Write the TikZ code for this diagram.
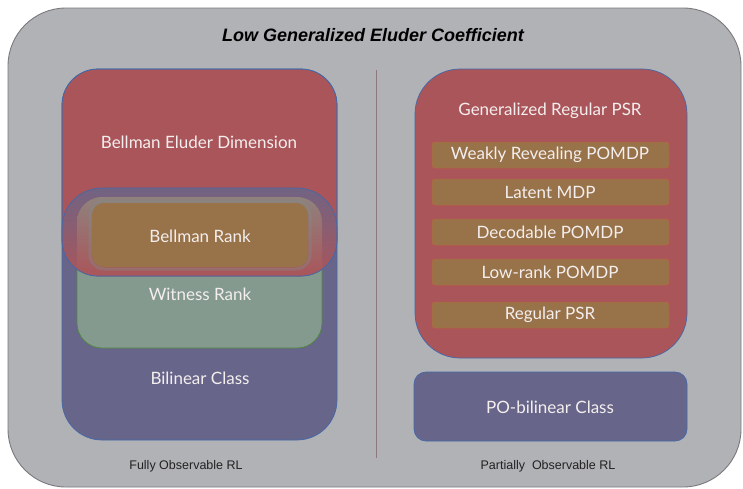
\documentclass[tikz,border=0pt]{standalone}
\usepackage{fontspec}
\setmainfont{Liberation Sans}
\newfontfamily\lblfont{Lato}
\definecolor{outerfill}{HTML}{B1B2B6}
\definecolor{outerline}{HTML}{7A7A7E}
\definecolor{redfill}{HTML}{AA555A}
\definecolor{bluefill}{HTML}{67668A}
\definecolor{greenfill}{HTML}{849A8F}
\definecolor{orangefill}{HTML}{98734A}
\definecolor{edgeblue}{HTML}{4468A8}
\definecolor{edgegreen}{HTML}{4E8A3A}
\definecolor{edgeorange}{HTML}{B8663A}
\definecolor{dividerc}{HTML}{8C7A78}
\definecolor{lbltext}{HTML}{F4EEEE}
\definecolor{captext}{HTML}{222222}
\begin{document}
\begin{tikzpicture}[x=1pt,y=-1pt,
  lbl/.style={text=lbltext, font=\lblfont\fontsize{17}{19}\selectfont, inner sep=0pt},
  captxt/.style={text=captext, font=\fontsize{12.5}{14}\selectfont, inner sep=0pt},
  strip/.style={fill=orangefill, draw=edgeorange, line width=0.5pt, rounded corners=3pt}]
\useasboundingbox (0,0) rectangle (743,488);
% outer region
\draw[outerline, fill=outerfill, line width=0.9pt, rounded corners=58pt] (8,8) rectangle (741,487);
\node[font=\bfseries\itshape\fontsize{18}{20}\selectfont, inner sep=0pt] (title) at (373,35) {Low Generalized Eluder Coefficient};
% divider
\coordinate (divtop) at (376,70);
\coordinate (divbot) at (376,458);
\draw[dividerc, line width=0.8pt] (divtop) -- (divbot);
% ---------- left: fully observable ----------
\fill[bluefill, rounded corners=40pt] (62,188) rectangle (337,440);
\draw[edgegreen, fill=greenfill, line width=0.7pt, rounded corners=25pt] (77,197) rectangle (322,348);
\draw[edgeblue, fill=redfill, line width=0.7pt, rounded corners=36pt] (62,69) rectangle (337,276);
\begin{scope}
  \clip[rounded corners=36pt] (62,69) rectangle (337,276);
  \begin{scope}
    \clip[rounded corners=40pt] (62,188) rectangle (337,440);
    \shade[top color=bluefill!85!redfill, bottom color=redfill] (60,188) rectangle (340,277);
    \clip[rounded corners=25pt] (77,197) rectangle (322,348);
    \shade[top color=greenfill!65!redfill!90!gray, bottom color=redfill] (75,197) rectangle (325,277);
  \end{scope}
\end{scope}
\draw[edgeblue, line width=0.7pt, rounded corners=40pt] (62,188) rectangle (337,440);
\draw[edgeblue, line width=0.7pt, rounded corners=36pt] (62,69) rectangle (337,276);
\draw[gray!60!greenfill, line width=3pt, opacity=0.4, rounded corners=14pt] (90,201) rectangle (310,269);
\fill[orangefill, rounded corners=12pt] (92,203) rectangle (308,267);
\node[lbl] (bed) at (199,142) {Bellman Eluder Dimension};
\node[lbl] (brank) at (200,236) {Bellman Rank};
\node[lbl] (wrank) at (200,294) {Witness Rank};
\node[lbl] (bilin) at (200,378) {Bilinear Class};
\node[captxt] (fo) at (186,466) {Fully Observable RL};
% ---------- right: partially observable ----------
\draw[edgeblue, fill=redfill, line width=0.7pt, rounded corners=45pt] (415,69) rectangle (687,358);
\node[lbl] (grpsr) at (550,111) {Generalized Regular PSR};
\draw[strip] (432,142) rectangle (669,168);
\node[lbl] (wr) at (550,155) {Weakly Revealing POMDP};
\draw[strip] (432,179) rectangle (669,205);
\node[lbl] (lmdp) at (550,192) {Latent MDP};
\draw[strip] (432,219) rectangle (669,245);
\node[lbl] (dec) at (550,232) {Decodable POMDP};
\draw[strip] (432,259) rectangle (669,285);
\node[lbl] (lr) at (550,272) {Low-rank POMDP};
\draw[strip] (432,302) rectangle (669,328);
\node[lbl] (rpsr) at (550,315) {Regular PSR};
\draw[edgeblue, fill=bluefill, line width=0.7pt, rounded corners=12pt] (414,372) rectangle (687,441);
\node[lbl] (pobil) at (550,407) {PO-bilinear Class};
\node[captxt] (po) at (548,466) {Partially\ \ Observable RL};
\end{tikzpicture}
\end{document}
